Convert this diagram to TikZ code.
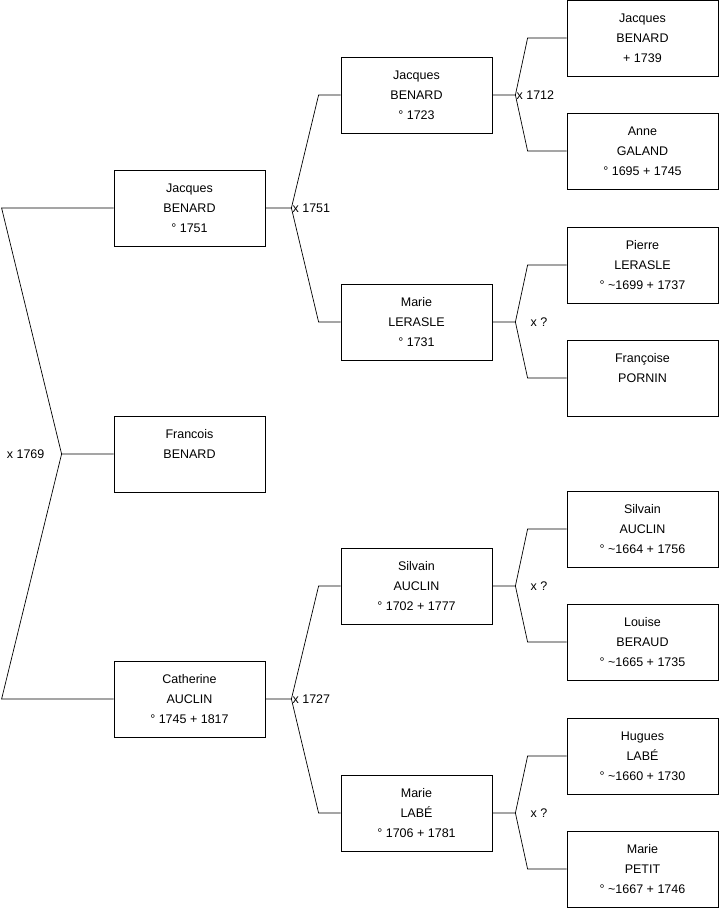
\documentclass[tikz,border=0pt]{standalone}
\usepackage{fontspec}
\setmainfont{Liberation Sans}
% fork from a child box to the boxes of its two parents
\newcommand{\famfork}[5]{%
  \draw[link] (#1.east) -- ++(#4,0) coordinate (#1-u)
    -- ([xshift=-#5]#2.west) -- (#2.west);
  \draw[link] (#1-u) -- ([xshift=-#5]#3.west) -- (#3.west);}
\begin{document}
\begin{tikzpicture}[
  x=1pt, y=-1pt,
  person/.style={draw=black, line width=0.8pt, minimum width=151pt,
    minimum height=76pt, align=center, inner sep=0pt,
    font=\fontsize{12.5}{20}\selectfont},
  link/.style={draw=black, line width=0.7pt},
  union/.style={font=\fontsize{12.5}{15}\selectfont, inner sep=1pt}
]
\useasboundingbox (0,0) rectangle (719,908);

% generation 1
\node[person] (fb) at (189.5,454) {Francois\\BENARD\\\mbox{}};
\node[person] (jb) at (189.5,208) {Jacques\\BENARD\\° 1751};
\node[person] (ca) at (189.5,699) {Catherine\\AUCLIN\\° 1745 + 1817};

% generation 2
\node[person] (jb2) at (416.5,95)  {Jacques\\BENARD\\° 1723};
\node[person] (ml)  at (416.5,322) {Marie\\LERASLE\\° 1731};
\node[person] (sa)  at (416.5,586) {Silvain\\AUCLIN\\° 1702 + 1777};
\node[person] (mlb) at (416.5,813) {Marie\\LABÉ\\° 1706 + 1781};

% generation 3
\node[person] (jb3) at (642.5,38)  {Jacques\\BENARD\\+ 1739};
\node[person] (ag)  at (642.5,151) {Anne\\GALAND\\° 1695 + 1745};
\node[person] (pl)  at (642.5,265) {Pierre\\LERASLE\\° \textasciitilde1699 + 1737};
\node[person] (fp)  at (642.5,378) {Françoise\\PORNIN\\\mbox{}};
\node[person] (sa3) at (642.5,529) {Silvain\\AUCLIN\\° \textasciitilde1664 + 1756};
\node[person] (lb)  at (642.5,642) {Louise\\BERAUD\\° \textasciitilde1665 + 1735};
\node[person] (hl)  at (642.5,756) {Hugues\\LABÉ\\° \textasciitilde1660 + 1730};
\node[person] (mp)  at (642.5,869) {Marie\\PETIT\\° \textasciitilde1667 + 1746};

% root fork, drawn to the left
\draw[link] (fb.west) -- ++(-52,0) coordinate (fb-u)
  -- ([xshift=-112pt]jb.west) -- (jb.west);
\draw[link] (fb-u) -- ([xshift=-112pt]ca.west) -- (ca.west);
\node[union, anchor=east] (u1769) at ([xshift=-16pt]fb-u) {x 1769};

\famfork{jb}{jb2}{ml}{26}{22pt}
\famfork{ca}{sa}{mlb}{26}{22pt}
\famfork{jb2}{jb3}{ag}{23}{39pt}
\famfork{ml}{pl}{fp}{23}{39pt}
\famfork{sa}{sa3}{lb}{23}{39pt}
\famfork{mlb}{hl}{mp}{23}{39pt}

\node[union, anchor=west] (u1751) at (jb-u)  {x 1751};
\node[union, anchor=west] (u1727) at (ca-u)  {x 1727};
\node[union, anchor=west] (u1712) at (jb2-u) {x 1712};
\node[union, anchor=west] (uml)   at ([xshift=14pt]ml-u)  {x ?};
\node[union, anchor=west] (usa)   at ([xshift=14pt]sa-u)  {x ?};
\node[union, anchor=west] (umlb)  at ([xshift=14pt]mlb-u) {x ?};
\end{tikzpicture}
\end{document}
